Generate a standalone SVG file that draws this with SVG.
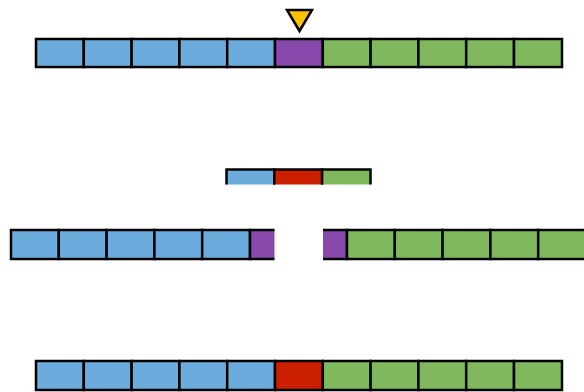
<svg xmlns="http://www.w3.org/2000/svg" width="584" height="392" viewBox="0 0 584 392">
<style>
.c{stroke:#000;stroke-width:2.5}
.b{fill:#6CACDC}.p{fill:#8749AB}.g{fill:#80B95D}.r{fill:#CC1F00}
</style>
<defs>
<clipPath id="clipL"><rect x="0" y="220" width="274.5" height="50"/></clipPath>
<clipPath id="clipR"><rect x="323" y="220" width="300" height="50"/></clipPath>
<clipPath id="clipS"><rect x="220" y="160" width="160" height="24.5"/></clipPath>
</defs>
<rect width="584" height="392" fill="#fff"/>
<g id="row1">
<rect class="c b" x="36" y="39" width="47.8" height="28"/>
<rect class="c b" x="83.8" y="39" width="47.8" height="28"/>
<rect class="c b" x="131.6" y="39" width="47.8" height="28"/>
<rect class="c b" x="179.4" y="39" width="47.8" height="28"/>
<rect class="c b" x="227.2" y="39" width="47.8" height="28"/>
<rect class="c p" x="275" y="39" width="47.8" height="28"/>
<rect class="c g" x="322.8" y="39" width="47.8" height="28"/>
<rect class="c g" x="370.6" y="39" width="47.8" height="28"/>
<rect class="c g" x="418.4" y="39" width="47.8" height="28"/>
<rect class="c g" x="466.2" y="39" width="47.8" height="28"/>
<rect class="c g" x="514" y="39" width="48" height="28"/>
</g>
<g id="cut-marker">
<polygon points="287,10 312,10 299.5,31" fill="#FFC000" stroke="#000" stroke-width="2.5" stroke-linejoin="miter"/>
</g>
<g id="insert" clip-path="url(#clipS)">
<rect class="c b" x="226.5" y="169.5" width="47.8" height="30"/>
<rect class="c r" x="274.3" y="169.5" width="47.8" height="30"/>
<rect class="c g" x="322.1" y="169.5" width="48.4" height="30"/>
</g>
<g id="left-piece">
<rect class="c b" x="11" y="230" width="47.8" height="29"/>
<rect class="c b" x="58.8" y="230" width="47.8" height="29"/>
<rect class="c b" x="106.6" y="230" width="47.8" height="29"/>
<rect class="c b" x="154.4" y="230" width="47.8" height="29"/>
<rect class="c b" x="202.2" y="230" width="47.8" height="29"/>
<g clip-path="url(#clipL)"><rect class="c p" x="250" y="230" width="47.8" height="29"/></g>
</g>
<g id="right-piece">
<g clip-path="url(#clipR)"><rect class="c p" x="299.2" y="230" width="47.8" height="29"/></g>
<rect class="c g" x="347" y="230" width="47.8" height="29"/>
<rect class="c g" x="394.8" y="230" width="47.8" height="29"/>
<rect class="c g" x="442.6" y="230" width="47.8" height="29"/>
<rect class="c g" x="490.4" y="230" width="47.8" height="29"/>
<rect class="c g" x="538.2" y="230" width="47.8" height="29"/>
</g>
<g id="row-result">
<rect class="c b" x="36" y="361" width="47.8" height="29"/>
<rect class="c b" x="83.8" y="361" width="47.8" height="29"/>
<rect class="c b" x="131.6" y="361" width="47.8" height="29"/>
<rect class="c b" x="179.4" y="361" width="47.8" height="29"/>
<rect class="c b" x="227.2" y="361" width="47.8" height="29"/>
<rect class="c r" x="275" y="361" width="47.8" height="29"/>
<rect class="c g" x="322.8" y="361" width="47.8" height="29"/>
<rect class="c g" x="370.6" y="361" width="47.8" height="29"/>
<rect class="c g" x="418.4" y="361" width="47.8" height="29"/>
<rect class="c g" x="466.2" y="361" width="47.8" height="29"/>
<rect class="c g" x="514" y="361" width="48" height="29"/>
</g>
</svg>
